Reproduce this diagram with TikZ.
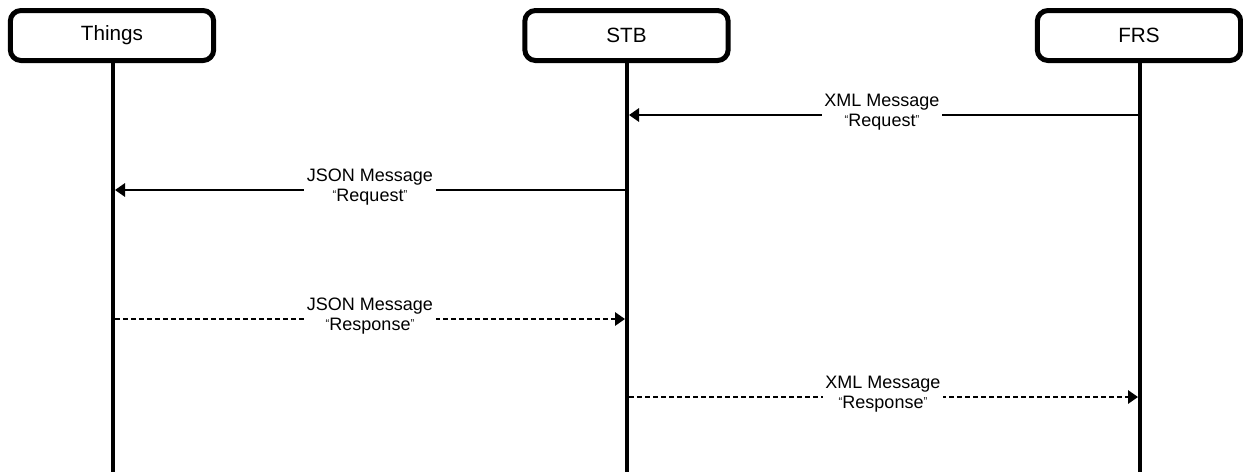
\documentclass[tikz,border=0pt]{standalone}
\usepackage{fontspec}
\setmainfont{Liberation Sans}
\usetikzlibrary{arrows.meta}
\newcommand{\smallq}[1]{{\fontsize{8.5pt}{8.5pt}\selectfont\raisebox{0.55ex}{#1}}}
\newcommand{\quoted}[1]{\smallq{“}#1\smallq{”}}
\begin{document}
\begin{tikzpicture}[x=0.75pt,y=-0.75pt,
  actor/.style={draw, line width=3.75pt, rounded corners=8pt, fill=white,
    minimum width=152.5pt, minimum height=37.5pt, inner sep=0pt,
    font=\fontsize{15.5pt}{18pt}\selectfont},
  lifeline/.style={line width=3pt},
  msg/.style={line width=1.5pt, -{Triangle[length=7.5pt,width=10pt]}},
  reply/.style={msg, dash pattern=on 3.5pt off 2.5pt},
  tag/.style={fill=white, align=center, inner sep=2pt,
    font=\fontsize{13.5pt}{15pt}\selectfont}]
  \useasboundingbox (0,0) rectangle (1243,472);

  % participants
  \node[actor] (things) at (112,35.5) {Things};
  \node[actor] (stb)    at (626.5,35.5) {STB};
  \node[actor] (frs)    at (1139,35.5) {FRS};

  % lifeline ends
  \coordinate (thingsEnd) at (113,472);
  \coordinate (stbEnd)    at (627,472);
  \coordinate (frsEnd)    at (1140,472);
  \draw[lifeline] (things.south -| thingsEnd) -- (thingsEnd);
  \draw[lifeline] (stb.south -| stbEnd) -- (stbEnd);
  \draw[lifeline] (frs.south -| frsEnd) -- (frsEnd);

  % message anchor points on the lifelines
  \coordinate (f1) at (1139,115);  \coordinate (s1) at (629,115);
  \coordinate (s2) at (626,190);   \coordinate (t2) at (115,190);
  \coordinate (t3) at (115,319);   \coordinate (s3) at (625,319);
  \coordinate (s4) at (629,397);   \coordinate (f4) at (1138,397);

  % messages
  \draw[msg] (f1) -- (s1);
  \node[tag] (m1) at (882,112) {XML Message\\\quoted{Request}};

  \draw[msg] (s2) -- (t2);
  \node[tag] (m2) at (370,187) {JSON Message\\\quoted{Request}};

  \draw[reply] (t3) -- (s3);
  \node[tag] (m3) at (370,316) {JSON Message\\\quoted{Response}};

  \draw[reply] (s4) -- (f4);
  \node[tag] (m4) at (883,394) {XML Message\\\quoted{Response}};
\end{tikzpicture}
\end{document}
